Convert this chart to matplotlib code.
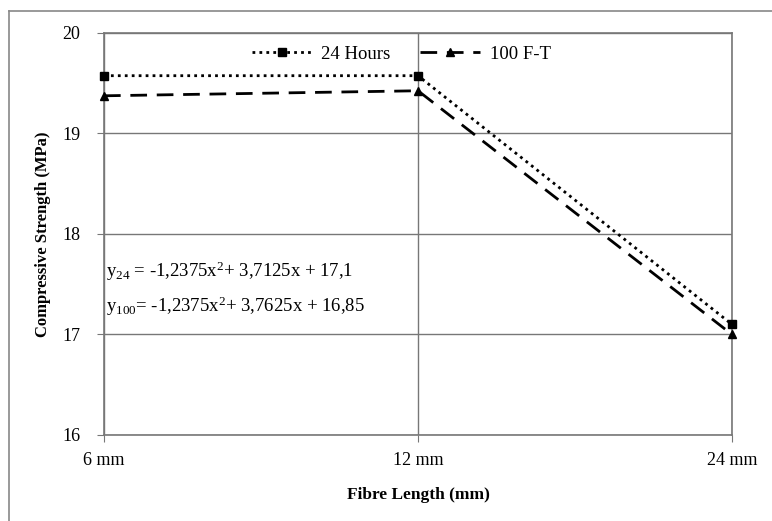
import matplotlib
matplotlib.use("Agg")
import matplotlib.pyplot as plt
from matplotlib.lines import Line2D

plt.rcParams["font.family"] = ["Liberation Serif", "DejaVu Serif"]
plt.rcParams["mathtext.fontset"] = "custom"
plt.rcParams["mathtext.rm"] = "Liberation Serif"
plt.rcParams["mathtext.it"] = "Liberation Serif"

categories = ["6 mm", "12 mm", "24 mm"]
hours24 = [19.575, 19.575, 17.1]
ft100 = [19.375, 19.425, 17.0]
y_ticks = [16, 17, 18, 19, 20]

fig = plt.figure(figsize=(7.72, 5.21), dpi=100)
ax = fig.add_axes([0.1347, 0.1651, 0.8135, 0.7716])

# outer frame (only top and left edges visible in the image)
fig.add_artist(Line2D([9 / 772, 1.0], [1 - 11 / 521, 1 - 11 / 521],
                      transform=fig.transFigure, color="#888888", lw=1.2))
fig.add_artist(Line2D([9 / 772, 9 / 772], [0.0, 1 - 11 / 521],
                      transform=fig.transFigure, color="#888888", lw=1.2))

x = list(range(len(categories)))
ax.plot(x, hours24, color="black", linestyle=(0, (1, 1.5)), lw=2.0,
        marker="s", markersize=6, label="24 Hours", clip_on=False, zorder=5)
ax.plot(x, ft100, color="black", linestyle=(0, (6, 3.5)), lw=2.0,
        marker="^", markersize=6, label="100 F-T", clip_on=False, zorder=5)

ax.set_xlim(0, 2)
ax.set_ylim(16, 20)
ax.set_xticks(x)
ax.set_xticklabels(categories)
ax.set_yticks(y_ticks)
ax.tick_params(axis="both", labelsize=13, color="#777777", length=5,
               direction="out")
ax.tick_params(axis="y", pad=12)
ax.tick_params(axis="x", pad=7)

ax.grid(True, color="#777777", lw=1.0)
for s in ax.spines.values():
    s.set_color("#777777")
    s.set_linewidth(1.2)

ax.set_xlabel("Fibre Length (mm)", fontsize=12.5, fontweight="bold",
              labelpad=13)
ax.set_ylabel("Compressive Strength (MPa)", fontsize=12, fontweight="bold",
              labelpad=8)

ax.text(0.005, 17.63, r"y$_{24}$ = -1,2375x$^{2}$+ 3,7125x + 17,1",
        fontsize=13.5, va="center", ha="left")
ax.text(0.005, 17.28, r"y$_{100}$= -1,2375x$^{2}$+ 3,7625x + 16,85",
        fontsize=13.5, va="center", ha="left")

ax.legend(loc="upper center", bbox_to_anchor=(0.473, 1.01), ncol=2,
          frameon=False, fontsize=13.5, handlelength=3.2, columnspacing=1.6,
          handletextpad=0.5)

fig.savefig("out.png", dpi=100)
